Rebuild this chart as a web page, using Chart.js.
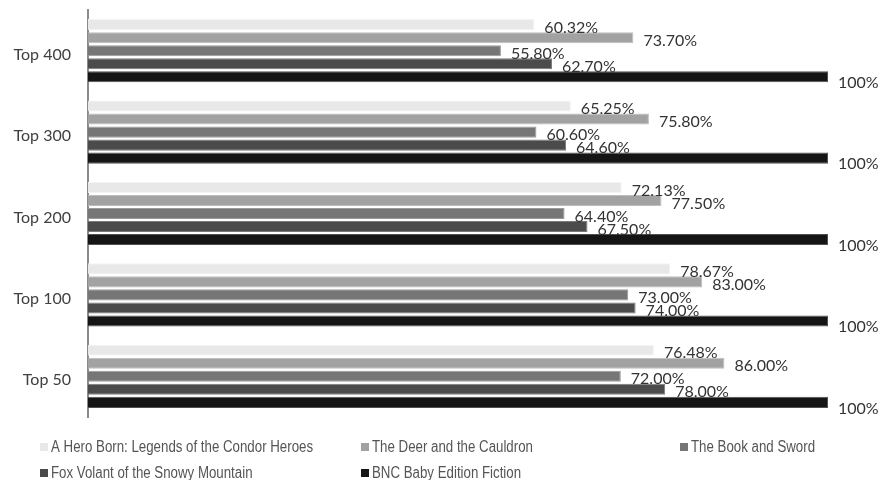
<!DOCTYPE html>
<html>
<head>
<meta charset="utf-8">
<script src="https://cdn.jsdelivr.net/npm/chart.js@4/dist/chart.umd.min.js"></script>
<style>
  html, body { margin: 0; padding: 0; background: #fff; }
  #wrap { width: 881px; height: 480px; position: relative; }
</style>
</head>
<body>
<div id="wrap"><canvas id="myChart"></canvas></div>
<script>
// categories, top to bottom
var categories = ["Top 400", "Top 300", "Top 200", "Top 100", "Top 50"];

var seriesNames = [
	"A Hero Born: Legends of the Condor Heroes",
	"The Deer and the Cauldron",
	"The Book and Sword",
	"Fox Volant of the Snowy Mountain",
	"BNC Baby Edition Fiction"
];

// coverage in percent
var heroBorn = [60.32, 65.25, 72.13, 78.67, 76.48];
var deerCauldron = [73.70, 75.80, 77.50, 83.00, 86.00];
var bookSword = [55.80, 60.60, 64.40, 73.00, 72.00];
var foxVolant = [62.70, 64.60, 67.50, 74.00, 78.00];
var bncBaby = [100, 100, 100, 100, 100];

var seriesValues = [heroBorn, deerCauldron, bookSword, foxVolant, bncBaby];
var seriesColors = ["#e8e8e8", "#a2a2a2", "#767676", "#4b4b4b", "#151515"];
var borderColors = ["#f4f4f4", "#bdbdbd", "#9a9a9a", "#7a7a7a", "#505050"];

var datasets = [];
for (var i = 0; i < seriesNames.length; i++) {
	datasets.push({
		label: seriesNames[i],
		data: seriesValues[i],
		backgroundColor: seriesColors[i],
		borderColor: borderColors[i],
		borderWidth: 1,
		categoryPercentage: 0.8,
		barPercentage: 0.85
	});
}

// value text at the end of each bar
var valueLabels = {
	id: 'valueLabels',
	afterDatasetsDraw: function(chart) {
		var ctx = chart.ctx;
		ctx.save();
		ctx.font = '16px Lato, "Open Sans", sans-serif';
		ctx.fillStyle = '#333';
		ctx.textAlign = 'left';
		ctx.textBaseline = 'middle';
		chart.data.datasets.forEach(function(ds, di) {
			chart.getDatasetMeta(di).data.forEach(function(bar, j) {
				var v = ds.data[j];
				var txt = v === 100 ? '100%' : v.toFixed(2) + '%';
				var dy = v === 100 ? 6 : 3;
				ctx.fillText(txt, bar.x + 10, bar.y + dy);
			});
		});
		ctx.restore();
	}
};

// legend in three columns under the plot (narrow type, squeezed sideways)
var gridLegend = {
	id: 'gridLegend',
	afterDraw: function(chart) {
		var ctx = chart.ctx;
		var colX = [40, 361, 680];
		var rowY = [447, 473];
		ctx.save();
		ctx.font = '16px "Liberation Sans", Arial, sans-serif';
		ctx.textBaseline = 'middle';
		chart.data.datasets.forEach(function(ds, i) {
			var x = colX[i % 3], y = rowY[Math.floor(i / 3)];
			ctx.fillStyle = ds.backgroundColor;
			ctx.fillRect(x, y - 4, 8, 8);
			ctx.fillStyle = '#555';
			ctx.save();
			ctx.translate(x + 11, y + 1);
			ctx.scale(0.83, 1);
			ctx.fillText(ds.label, 0, 0);
			ctx.restore();
		});
		ctx.restore();
	}
};

new Chart(document.getElementById('myChart').getContext('2d'), {
	type: 'bar',
	data: { labels: categories, datasets: datasets },
	options: {
		indexAxis: 'y',
		responsive: true,
		maintainAspectRatio: false,
		animation: false,
		layout: { padding: { top: 10, right: 53, bottom: 63, left: 0 } },
		plugins: {
			legend: { display: false },
			tooltip: { enabled: false }
		},
		scales: {
			x: {
				min: 0,
				max: 100,
				display: false
			},
			y: {
				grid: { display: false, drawTicks: true, tickLength: 17, tickColor: 'rgba(0,0,0,0)' },
				border: { display: true, color: '#8a8a8a', width: 2 },
				ticks: {
					color: '#404040',
					font: { family: 'Lato, "Open Sans", sans-serif', size: 16 },
					padding: 0,
					labelOffset: 4
				},
				afterFit: function(scale) { scale.width = 88; }
			}
		}
	},
	plugins: [valueLabels, gridLegend]
});
</script>
</body>
</html>
